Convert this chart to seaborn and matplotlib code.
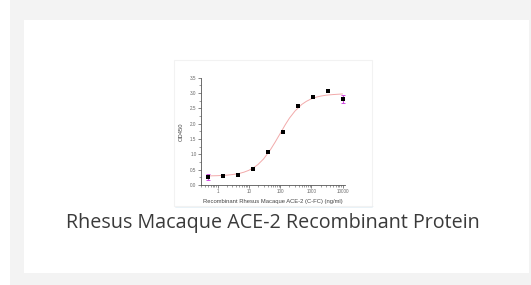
import numpy as np
import pandas as pd
import matplotlib.pyplot as plt
import matplotlib.patches as mpatches
from matplotlib.ticker import LogLocator, MultipleLocator, FixedLocator
import seaborn as sns

sns.set_theme(style='white')
plt.rcParams['font.family'] = ['Liberation Sans', 'DejaVu Sans']

# measured points (3-fold dilution series)
conc = [0.508, 1.52, 4.57, 13.7, 41.2, 123, 370, 1111, 3333, 10000]
od450 = [0.27, 0.30, 0.34, 0.52, 1.09, 1.72, 2.57, 2.88, 3.07, 2.79]
err = [0.10, 0, 0, 0, 0, 0, 0, 0, 0, 0.13]

# fitted curve
curve_x = [0.5, 1, 2, 3, 5, 7, 10, 15, 20, 30, 50, 70, 100, 150, 200,
           300, 500, 700, 1000, 1500, 2000, 3000, 5000, 10000]
curve_y = [0.296, 0.304, 0.321, 0.340, 0.378, 0.418, 0.478, 0.577, 0.674,
           0.854, 1.16, 1.40, 1.67, 1.98, 2.18, 2.41, 2.63, 2.73, 2.81,
           2.87, 2.90, 2.93, 2.95, 2.97]

y_ticks = [0.0, 0.5, 1.0, 1.5, 2.0, 2.5, 3.0, 3.5]
x_ticks = [1, 10, 100, 1000, 10000]
x_ticklabels = ['1', '10', '100', '1000', '10000']

caption = 'Rhesus Macaque ACE-2 Recombinant Protein'

df = pd.DataFrame({'conc': conc, 'od': od450, 'err': err})
fit = pd.DataFrame({'conc': curve_x, 'od': curve_y})

fig = plt.figure(figsize=(5.31, 2.85), dpi=100)
fig.patch.set_facecolor('#f3f3f3')

# page backdrop: card and the chart image frame
fig.patches.append(mpatches.Rectangle((0, 0), 10 / 531, 1, transform=fig.transFigure,
                                      facecolor='white', edgecolor='none', zorder=-2))
fig.patches.append(mpatches.Rectangle((24 / 531, 1 - 273 / 285), 505 / 531, 253 / 285,
                                      transform=fig.transFigure, facecolor='white',
                                      edgecolor='none', zorder=-2))
fig.patches.append(mpatches.Rectangle((174 / 531, 1 - 206 / 285), 198 / 531, 146 / 285,
                                      transform=fig.transFigure, facecolor='white',
                                      edgecolor='#f2f2f2', linewidth=0.8, zorder=-1))
fig.lines.append(plt.Line2D([175 / 531, 372 / 531], [1 - 206 / 285, 1 - 206 / 285],
                            transform=fig.transFigure, color='#8fc2dc', linewidth=1.0,
                            zorder=-1))

ax = fig.add_axes([200.7 / 531, 1 - 185 / 285, 144.3 / 531, 107.3 / 285])
ax.set_facecolor('none')

sns.lineplot(data=fit, x='conc', y='od', ax=ax, color='#f2aaaa', linewidth=0.7,
             zorder=2)
e = df[df['err'] > 0]
ax.errorbar(e['conc'], e['od'], yerr=e['err'], fmt='none', ecolor='#d04ee0',
            elinewidth=0.8, capsize=1.3, capthick=0.7, linestyle=(0, (1.5, 1)),
            zorder=3)
sns.scatterplot(data=df, x='conc', y='od', ax=ax, marker='s', color='black',
                s=6, linewidth=0, zorder=4)

ax.set_xscale('log')
ax.set_xlim(0.29, 12000)
ax.set_ylim(0, 3.5)
ax.xaxis.set_major_locator(FixedLocator(x_ticks))
ax.set_xticklabels(x_ticklabels)
ax.xaxis.set_minor_locator(LogLocator(base=10, subs=np.arange(2, 10)))
ax.yaxis.set_major_locator(FixedLocator(y_ticks))
ax.set_yticklabels([f'{v:.1f}' for v in y_ticks])
ax.yaxis.set_minor_locator(MultipleLocator(0.25))

for side in ['top', 'right']:
    ax.spines[side].set_visible(False)
for side in ['left', 'bottom']:
    ax.spines[side].set_color('#555555')
    ax.spines[side].set_linewidth(0.6)

ax.tick_params(axis='both', which='major', direction='out', length=2, width=0.5,
               color='#555555', labelsize=3.3, labelcolor='#666666', pad=1)
ax.tick_params(axis='both', which='minor', direction='out', length=1.2, width=0.4,
               color='#555555')
ax.tick_params(axis='x', which='both', bottom=True)
ax.tick_params(axis='y', which='both', left=True)

ax.set_xlabel('Recombinant Rhesus Macaque ACE-2 (C-FC) (ng/ml)', fontsize=4.2,
              color='#444444')
ax.set_ylabel('OD450', fontsize=4.2, color='#444444')
ax.xaxis.set_label_coords(0.5, -0.135)
ax.yaxis.set_label_coords(-0.115, 0.5)

fig.text(272.5 / 531, 1 - 223 / 285, caption, ha='center', va='center',
         fontsize=14.2, color='#3a3a3a', family=['Open Sans', 'DejaVu Sans'])

fig.savefig('out.png', dpi=100, facecolor=fig.get_facecolor())
